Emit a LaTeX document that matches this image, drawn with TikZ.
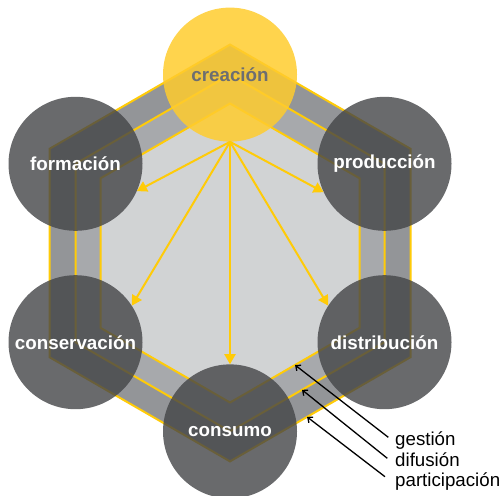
\documentclass[tikz,border=0pt]{standalone}
\usepackage{fontspec}
\setmainfont{Liberation Sans}
\usetikzlibrary{arrows.meta,calc}
\definecolor{hexY}{HTML}{FFCB08}
\definecolor{bandA}{HTML}{939598}
\definecolor{bandB}{HTML}{A7A9AC}
\definecolor{inner}{HTML}{D1D3D4}
\definecolor{circG}{HTML}{444547}
\definecolor{circY}{HTML}{FFCC2E}
\definecolor{labG}{HTML}{6D6E71}
\tikzset{
  hexline/.style={draw=hexY, line width=2pt, line join=miter},
  circ/.style={circle, minimum size=134pt, inner sep=0pt, fill=circG, fill opacity=0.8, text opacity=1,
     text=white, font=\bfseries\fontsize{18.8}{20}\selectfont},
  ycirc/.style={circ, fill=circY, fill opacity=0.85, text=labG},
  yarrow/.style={draw=hexY, line width=2pt, -{Triangle[length=10pt,width=11pt]}},
  barrow/.style={draw=black, line width=1.3pt, -{Straight Barb[length=4pt,width=7pt]}},
  lab/.style={anchor=base west, inner sep=0pt, font=\fontsize{18.7}{20}\selectfont}
}
\begin{document}
\begin{tikzpicture}[x=1pt,y=-1pt]
\useasboundingbox (0,0) rectangle (502,495);
% outer hexagon
\coordinate (o1) at (230,44.6);  \coordinate (o2) at (410.5,148.8);
\coordinate (o3) at (410.5,357.2); \coordinate (o4) at (230,461.4);
\coordinate (o5) at (49.5,357.2); \coordinate (o6) at (49.5,148.8);
% middle hexagon
\coordinate (m1) at (230,74.6);  \coordinate (m2) at (384.5,163.8);
\coordinate (m3) at (384.5,342.2); \coordinate (m4) at (230,431.4);
\coordinate (m5) at (75.5,342.2); \coordinate (m6) at (75.5,163.8);
% inner hexagon
\coordinate (i1) at (230,103.5);  \coordinate (i2) at (359.5,178.3);
\coordinate (i3) at (359.5,327.8); \coordinate (i4) at (230,402.5);
\coordinate (i5) at (100.5,327.8); \coordinate (i6) at (100.5,178.3);

\fill[bandA] (o1)--(o2)--(o3)--(o4)--(o5)--(o6)--cycle;
\fill[bandB] (m1)--(m2)--(m3)--(m4)--(m5)--(m6)--cycle;
\fill[inner] (i1)--(i2)--(i3)--(i4)--(i5)--(i6)--cycle;
\draw[hexline] (o1)--(o2)--(o3)--(o4)--(o5)--(o6)--cycle;
\draw[hexline] (m1)--(m2)--(m3)--(m4)--(m5)--(m6)--cycle;
\draw[hexline] (i1)--(i2)--(i3)--(i4)--(i5)--(i6)--cycle;

% circles
\node[ycirc] (creacion) at (m1) {creación};
\node[circ] (produccion) at (m2) {producción};
\node[circ] (distribucion) at (m3) {distribución};
\node[circ] (consumo) at (m4) {consumo};
\node[circ] (conservacion) at (m5) {conservación};
\node[circ] (formacion) at (m6) {formación};

% yellow arrows
\draw[yarrow] (creacion.south) -- (formacion.-24.5);
\draw[yarrow] (creacion.south) -- (produccion.-155.5);
\draw[yarrow] (creacion.south) -- (conservacion.33);
\draw[yarrow] (creacion.south) -- (distribucion.147);
\draw[yarrow] (creacion.south) -- (consumo.north);

% labels on the right
\node[lab] (gestion) at (395,445) {gestión};
\node[lab] (difusion) at (395,466.5) {difusión};
\node[lab] (participacion) at (395,486) {participación};
\coordinate (tG) at (388.3,437.3);
\coordinate (tD) at (387.3,458.3);
\coordinate (tP) at (385,476.7);
\coordinate (hG) at ($(i3)!0.498!(i4)$);
\coordinate (hD) at ($(m3)!0.534!(m4)$);
\coordinate (hP) at ($(o3)!0.573!(o4)$);
\draw[barrow] (tG) -- (hG);
\draw[barrow] (tD) -- (hD);
\draw[barrow] (tP) -- (hP);
\end{tikzpicture}
\end{document}
